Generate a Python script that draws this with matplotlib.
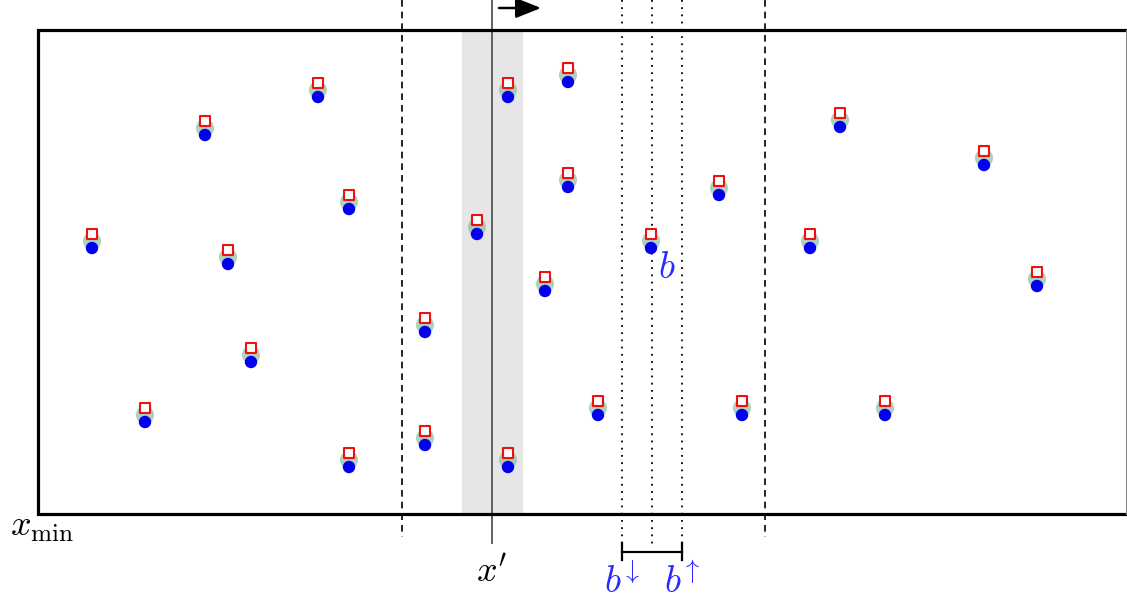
import numpy as np
import matplotlib.pyplot as plt
from matplotlib.patches import Rectangle

plt.rcParams['mathtext.fontset'] = 'cm'

# point positions (pixel units)
pts_x = [92, 145, 205, 228, 251, 318, 349, 349, 425, 425, 477, 508, 508,
         545, 568, 568, 598, 651, 719, 742, 810, 840, 885, 984, 1037]
pts_y = [248, 422, 135, 264, 362, 97, 209, 467, 332, 445, 234, 97, 467,
         291, 82, 187, 415, 248, 195, 415, 248, 127, 415, 165, 286]

box = (38, 30, 1126, 514)      # x0, y0, x1, y1
dash_x = [402, 765]
band = (462, 523)
x_prime = 492
b_lo, b_mid, b_hi = 622, 652, 682

fig = plt.figure(figsize=(11.27, 6.05), dpi=100)
ax = fig.add_axes([0, 0, 1, 1])
ax.set_xlim(0, 1127)
ax.set_ylim(605, 0)
ax.axis('off')

# shaded band around x'
ax.add_patch(Rectangle((band[0], box[1]), band[1] - band[0], box[3] - box[1],
                       facecolor='#e6e6e6', edgecolor='none', zorder=1))

# box (right side is cut off by the page edge)
ax.plot([box[2] + 2, box[0], box[0], box[2] + 2],
        [box[1], box[1], box[3], box[3]],
        color='black', lw=2.3, solid_joinstyle='miter', zorder=3)
ax.plot([box[2], box[2]], [box[1], box[3]], color='#888888', lw=0.8, zorder=3)

# dashed window limits
for x in dash_x:
    ax.plot([x, x], [0, 537], color='black', lw=1.2, ls=(0, (4, 3)), zorder=2)

# x' line and arrow
ax.plot([x_prime, x_prime], [0, 543], color='#555555', lw=1.3, zorder=2)
ax.annotate('', xy=(541, 8), xytext=(499, 8),
            arrowprops=dict(arrowstyle='-|>,head_length=0.55,head_width=0.22',
                            color='black', lw=1.8, mutation_scale=28,
                            shrinkA=0, shrinkB=0))

# dotted bin lines
for x in [b_lo, b_mid, b_hi]:
    ax.plot([x, x], [0, 545], color='black', lw=1.3, ls=(0, (1, 3)), zorder=2)

# bin bracket
ax.plot([b_lo, b_hi], [552, 552], color='black', lw=1.6, zorder=2)
ax.plot([b_lo, b_lo], [543, 560], color='black', lw=1.6, zorder=2)
ax.plot([b_hi, b_hi], [543, 560], color='black', lw=1.6, zorder=2)

# points
px = np.array(pts_x)
py = np.array(pts_y)
ax.scatter(px, py - 7, s=170, color='#8fbf9f', alpha=0.7, edgecolors='none', zorder=4)
ax.scatter(px, py, s=80, color='#0000ee', edgecolors='none', zorder=5)
ax.scatter(px, py - 14, s=60, marker='s', facecolor='white',
           edgecolors='#ee1111', linewidths=1.5, zorder=6)

# labels
ax.text(42, 527, r'$x_{\min}$', fontsize=26, ha='center', va='center', color='black')
ax.text(x_prime, 572, r"$x'$", fontsize=26, ha='center', va='center', color='black')
ax.text(667, 268, r'$b$', fontsize=27, ha='center', va='center', color='#2a2aff')
ax.text(b_lo, 583, r'$b^{\!\downarrow}$', fontsize=27, ha='center', va='center', color='#2a2aff')
ax.text(b_hi, 583, r'$b^{\!\uparrow}$', fontsize=27, ha='center', va='center', color='#2a2aff')

fig.savefig('out.png', dpi=100)
